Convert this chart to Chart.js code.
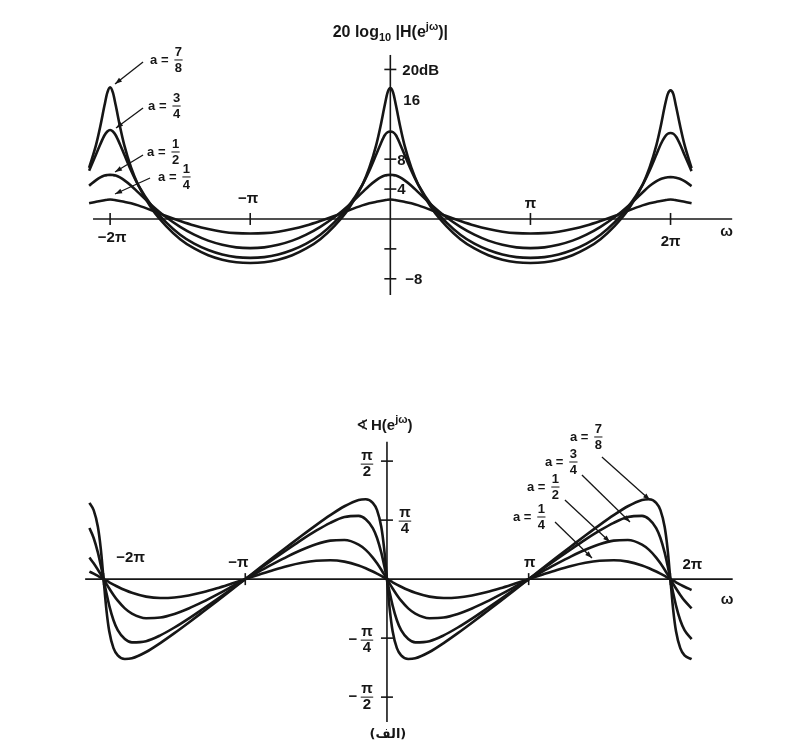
<!DOCTYPE html>
<html>
<head>
<meta charset="utf-8">
<script src="https://cdn.jsdelivr.net/npm/chart.js@4/dist/chart.umd.min.js"></script>
<style>
  body { margin: 0; background: #fff; }
  #wrap { position: relative; width: 800px; height: 748px; }
  canvas { position: absolute; left: 0; }
</style>
</head>
<body>
<div id="wrap">
  <canvas id="magChart" width="800" height="340" style="top:0"></canvas>
  <canvas id="phaseChart" width="800" height="408" style="top:340px"></canvas>
</div>
<script>
// frequency axis, in units of pi
var omegaMag = [-2.15, -2.1, -2.07, -2.04, -2.02, -2, -1.98, -1.96, -1.93, -1.9, -1.85, -1.8,
    -1.7, -1.6, -1.5, -1.4, -1.3, -1.2, -1.1, -1, -0.9, -0.8, -0.7, -0.6, -0.5, -0.4, -0.3, -0.2,
    -0.15, -0.1, -0.07, -0.04, -0.02, 0, 0.02, 0.04, 0.07, 0.1, 0.15, 0.2, 0.3, 0.4, 0.5, 0.6,
    0.7, 0.8, 0.9, 1, 1.1, 1.2, 1.3, 1.4, 1.5, 1.6, 1.7, 1.8, 1.85, 1.9, 1.93, 1.96, 1.98, 2,
    2.02, 2.04, 2.07, 2.1, 2.15];
var omegaPhase = [-2.1, -2.07, -2.04, -2.02, -2, -1.98, -1.96, -1.93, -1.9, -1.85, -1.8,
    -1.7, -1.6, -1.5, -1.4, -1.3, -1.2, -1.1, -1, -0.9, -0.8, -0.7, -0.6, -0.5, -0.4, -0.3, -0.2,
    -0.15, -0.1, -0.07, -0.04, -0.02, 0, 0.02, 0.04, 0.07, 0.1, 0.15, 0.2, 0.3, 0.4, 0.5, 0.6,
    0.7, 0.8, 0.9, 1, 1.1, 1.2, 1.3, 1.4, 1.5, 1.6, 1.7, 1.8, 1.85, 1.9, 1.93, 1.96, 1.98, 2,
    2.02, 2.04, 2.07, 2.1, 2.15];

// 20 log10 |H| in dB, one array per value of a
var mag78 = [6.85, 9.95, 12.4, 15.2, 16.9, 17.6, 16.9, 15.2, 12.4, 9.95, 6.85, 4.55, 1.3, -0.95,
    -2.7, -3.95, -4.85, -5.45, -5.8, -5.9, -5.8, -5.45, -4.85, -3.95, -2.7, -0.95, 1.3, 4.55,
    6.85, 9.95, 12.4, 15.2, 16.9, 17.5, 16.9, 15.2, 12.4, 9.95, 6.85, 4.55, 1.3, -0.95, -2.7,
    -3.95, -4.85, -5.45, -5.8, -5.9, -5.8, -5.45, -4.85, -3.95, -2.7, -0.95, 1.3, 4.55, 6.85,
    9.95, 12.4, 15.2, 16.7, 17.2, 16.7, 15.0, 12.3, 9.9, 6.8];
var mag34 = [6.45, 8.65, 10.0, 11.2, 11.7, 11.9, 11.7, 11.2, 10.0, 8.65, 6.45, 4.55, 1.65, -0.45,
    -2.1, -3.3, -4.15, -4.75, -5.1, -5.2, -5.1, -4.75, -4.15, -3.3, -2.1, -0.45, 1.65, 4.55,
    6.45, 8.65, 10.0, 11.2, 11.6, 11.7, 11.6, 11.2, 10.0, 8.65, 6.45, 4.55, 1.65, -0.45, -2.1,
    -3.3, -4.15, -4.75, -5.1, -5.2, -5.1, -4.75, -4.15, -3.3, -2.1, -0.45, 1.65, 4.55, 6.45,
    8.65, 10.0, 11.0, 11.4, 11.5, 11.4, 11.0, 9.9, 8.55, 6.4];
var mag12 = [4.45, 5.2, 5.55, 5.8, 5.87, 5.9, 5.87, 5.8, 5.55, 5.2, 4.45, 3.55, 1.78, 0.22,
    -1.05, -2.1, -2.9, -3.45, -3.8, -3.9, -3.8, -3.45, -2.9, -2.1, -1.05, 0.22, 1.78, 3.55,
    4.45, 5.2, 5.55, 5.8, 5.87, 5.9, 5.87, 5.8, 5.55, 5.2, 4.45, 3.55, 1.78, 0.22, -1.05,
    -2.1, -2.9, -3.45, -3.8, -3.9, -3.8, -3.45, -2.9, -2.1, -1.05, 0.22, 1.78, 3.55, 4.4,
    5.05, 5.35, 5.5, 5.57, 5.6, 5.57, 5.5, 5.35, 5.05, 4.4];
var mag14 = [2.1, 2.3, 2.4, 2.5, 2.57, 2.6, 2.57, 2.5, 2.4, 2.3, 2.1, 1.82, 1.14, 0.4,
    -0.27, -0.87, -1.35, -1.7, -1.9, -1.95, -1.9, -1.7, -1.35, -0.87, -0.27, 0.4, 1.14, 1.82,
    2.1, 2.3, 2.4, 2.5, 2.57, 2.6, 2.57, 2.5, 2.4, 2.3, 2.1, 1.82, 1.14, 0.4, -0.27,
    -0.87, -1.35, -1.7, -1.9, -1.95, -1.9, -1.7, -1.35, -0.87, -0.27, 0.4, 1.14, 1.82, 2.1,
    2.3, 2.4, 2.5, 2.57, 2.6, 2.57, 2.5, 2.4, 2.3, 2.1];

// phase of H in radians, one array per value of a
var ph78 = [1.015, 0.918, 0.694, 0.409, 0, -0.409, -0.694, -0.918, -1.015, -1.064, -1.054,
    -0.970, -0.851, -0.719, -0.580, -0.437, -0.293, -0.147, 0, 0.147, 0.293, 0.437, 0.580,
    0.719, 0.851, 0.970, 1.054, 1.064, 1.015, 0.918, 0.694, 0.409, 0, -0.409, -0.694, -0.918,
    -1.015, -1.064, -1.054, -0.970, -0.851, -0.719, -0.580, -0.437, -0.293, -0.147, 0, 0.147,
    0.293, 0.437, 0.580, 0.719, 0.851, 0.970, 1.054, 1.064, 1.015, 0.918, 0.694, 0.409, 0,
    -0.409, -0.694, -0.918, -1.015, -1.064];
var ph34 = [0.680, 0.548, 0.352, 0.185, 0, -0.185, -0.352, -0.548, -0.680, -0.798, -0.842,
    -0.826, -0.749, -0.644, -0.525, -0.398, -0.268, -0.135, 0, 0.135, 0.268, 0.398, 0.525,
    0.644, 0.749, 0.826, 0.842, 0.798, 0.680, 0.548, 0.352, 0.185, 0, -0.185, -0.352, -0.548,
    -0.680, -0.798, -0.842, -0.826, -0.749, -0.644, -0.525, -0.398, -0.268, -0.135, 0, 0.135,
    0.268, 0.398, 0.525, 0.644, 0.749, 0.826, 0.842, 0.798, 0.680, 0.548, 0.352, 0.185, 0,
    -0.185, -0.352, -0.548, -0.680, -0.798];
var ph12 = [0.287, 0.210, 0.124, 0.063, 0, -0.063, -0.124, -0.210, -0.287, -0.389, -0.459,
    -0.520, -0.512, -0.464, -0.391, -0.303, -0.206, -0.104, 0, 0.104, 0.206, 0.303, 0.391,
    0.464, 0.512, 0.520, 0.459, 0.389, 0.287, 0.210, 0.124, 0.063, 0, -0.063, -0.124, -0.210,
    -0.287, -0.389, -0.459, -0.520, -0.512, -0.464, -0.391, -0.303, -0.206, -0.104, 0, 0.104,
    0.206, 0.303, 0.391, 0.464, 0.512, 0.520, 0.459, 0.389, 0.287, 0.210, 0.124, 0.063, 0,
    -0.063, -0.124, -0.210, -0.287, -0.389];
var ph14 = [0.101, 0.072, 0.042, 0.021, 0, -0.021, -0.042, -0.072, -0.101, -0.145, -0.182,
    -0.233, -0.252, -0.245, -0.217, -0.175, -0.122, -0.062, 0, 0.062, 0.122, 0.175, 0.217,
    0.245, 0.252, 0.233, 0.182, 0.145, 0.101, 0.072, 0.042, 0.021, 0, -0.021, -0.042, -0.072,
    -0.101, -0.145, -0.182, -0.233, -0.252, -0.245, -0.217, -0.175, -0.122, -0.062, 0, 0.062,
    0.122, 0.175, 0.217, 0.245, 0.252, 0.233, 0.182, 0.145, 0.101, 0.072, 0.042, 0.021, 0,
    -0.021, -0.042, -0.072, -0.101, -0.145];

// tick values and labels
var magXTicks = [-2, -1, 1, 2];
var magXLabels = ['\u22122\u03c0', '\u2212\u03c0', '\u03c0', '2\u03c0'];
var magYTicks = [20, 8, 4, -4, -8];
var magYLabelValues = [20, 16, 8, 4, -8];
var magYLabels = ['20dB', '16', '8', '4', '\u22128'];
var phXTicks = [-2, -1, 1, 2];
var phXLabels = ['\u22122\u03c0', '\u2212\u03c0', '\u03c0', '2\u03c0'];
var phYTicks = [Math.PI / 2, Math.PI / 4, -Math.PI / 4, -Math.PI / 2];
var phYLabels = [['', '\u03c0', '2'], ['', '\u03c0', '4'], ['\u2212', '\u03c0', '4'], ['\u2212', '\u03c0', '2']];
var aNames = [['7', '8'], ['3', '4'], ['1', '2'], ['1', '4']];

var ink = '#161616';
var font = "bold 15px 'Liberation Sans', Arial, sans-serif";
var titleFont = "bold 16px 'Liberation Sans', Arial, sans-serif";
var supFont = "bold 11px 'Liberation Sans', Arial, sans-serif";
var smallFont = "bold 13px 'Liberation Sans', Arial, sans-serif";

function points(xs, ys) {
    return xs.map(function(x, i) { return { x: x, y: ys[i] }; });
}

function curve(xs, ys) {
    return {
        data: points(xs, ys),
        showLine: true,
        borderColor: ink,
        borderWidth: 2.6,
        pointRadius: 0,
        cubicInterpolationMode: 'monotone',
        fill: false,
        clip: false
    };
}

function line(ctx, x1, y1, x2, y2) {
    ctx.beginPath();
    ctx.moveTo(x1, y1);
    ctx.lineTo(x2, y2);
    ctx.stroke();
}

function arrow(ctx, x1, y1, x2, y2) {
    line(ctx, x1, y1, x2, y2);
    var ang = Math.atan2(y2 - y1, x2 - x1);
    ctx.beginPath();
    ctx.moveTo(x2, y2);
    ctx.lineTo(x2 - 7 * Math.cos(ang) + 2.5 * Math.sin(ang), y2 - 7 * Math.sin(ang) - 2.5 * Math.cos(ang));
    ctx.lineTo(x2 - 7 * Math.cos(ang) - 2.5 * Math.sin(ang), y2 - 7 * Math.sin(ang) + 2.5 * Math.cos(ang));
    ctx.closePath();
    ctx.fill();
}

function frac(ctx, num, den, cx, cy) {
    var w = Math.max(ctx.measureText(num).width, ctx.measureText(den).width) + 1;
    ctx.textAlign = 'center';
    ctx.textBaseline = 'middle';
    ctx.fillText(num, cx, cy - 8);
    ctx.fillText(den, cx, cy + 8);
    ctx.fillRect(cx - w / 2, cy - 0.5, w, 1);
}

// "a = n/d" label with a leader arrow; anchors are in data units
function aLabel(ctx, X, Y, name, note) {
    ctx.font = smallFont;
    ctx.textAlign = 'left';
    ctx.textBaseline = 'middle';
    var tx = X(note.text[0]), ty = Y(note.text[1]);
    ctx.fillText('a =', tx, ty);
    frac(ctx, name[0], name[1], tx + ctx.measureText('a =').width + 10, ty);
    arrow(ctx, X(note.tail[0]), Y(note.tail[1]), X(note.tip[0]), Y(note.tip[1]));
}

var magNotes = [
    { text: [-1.715, 21.27], tail: [-1.765, 21.0], tip: [-1.965, 18.06] },
    { text: [-1.729, 15.11], tail: [-1.765, 14.85], tip: [-1.958, 12.17] },
    { text: [-1.736, 8.96], tail: [-1.765, 8.56], tip: [-1.965, 6.29] },
    { text: [-1.658, 5.62], tail: [-1.715, 5.48], tip: [-1.965, 3.34] }
];
var phNotes = [
    { text: [1.291, 1.892], tail: [1.517, 1.625], tip: [1.856, 1.053] },
    { text: [1.115, 1.559], tail: [1.376, 1.386], tip: [1.715, 0.760] },
    { text: [0.988, 1.226], tail: [1.256, 1.053], tip: [1.574, 0.494] },
    { text: [0.889, 0.827], tail: [1.186, 0.760], tip: [1.447, 0.281] }
];

// text made of pieces with their own font and baseline shift
function richText(ctx, parts, x, y, align) {
    var total = 0;
    parts.forEach(function(p) { ctx.font = p[1]; total += ctx.measureText(p[0]).width; });
    var tx = align === 'center' ? x - total / 2 : x;
    ctx.textAlign = 'left';
    ctx.textBaseline = 'alphabetic';
    parts.forEach(function(p) {
        ctx.font = p[1];
        ctx.fillText(p[0], tx, y + p[2]);
        tx += ctx.measureText(p[0]).width;
    });
}

/**
 *  Axes, ticks and texts of the magnitude plot.
 */
var magAxes = {
    id: 'magAxes',
    beforeDatasetsDraw: function(chart) {
        var ctx = chart.ctx;
        var X = function(v) { return chart.scales.x.getPixelForValue(v); };
        var Y = function(v) { return chart.scales.y.getPixelForValue(v); };
        var x0 = X(0), y0 = Y(0);
        ctx.save();
        ctx.strokeStyle = ink;
        ctx.fillStyle = ink;
        ctx.lineWidth = 1.6;
        line(ctx, X(-2.122), y0, X(2.44), y0);
        line(ctx, x0, Y(21.94), x0, Y(-10.17));
        magXTicks.forEach(function(t) { line(ctx, X(t), y0 - 6, X(t), y0 + 6); });
        magYTicks.forEach(function(t) { line(ctx, x0 - 6, Y(t), x0 + 6, Y(t)); });

        ctx.font = font;
        ctx.textAlign = 'center';
        ctx.textBaseline = 'middle';
        var xOff = [[2, 19], [-2, -20], [0, -15], [0, 23]];
        magXTicks.forEach(function(t, i) {
            ctx.fillText(magXLabels[i], X(t) + xOff[i][0], y0 + xOff[i][1]);
        });
        ctx.fillText('\u03c9', X(2.4), y0 + 13);

        ctx.textAlign = 'left';
        var yOff = [[12, 1], [13, 2], [7, 2], [7, 1], [15, 1]];
        magYLabelValues.forEach(function(v, i) {
            ctx.fillText(magYLabels[i], x0 + yOff[i][0], Y(v) + yOff[i][1]);
        });

        // title: 20 log10 |H(e^jw)|
        richText(ctx, [['20 log', titleFont, 0], ['10', supFont, 4], [' |H(e', titleFont, 0],
                       ['j\u03c9', supFont, -7], [')|', titleFont, 0]], x0, 37, 'center');

        ctx.lineWidth = 1.3;
        magNotes.forEach(function(n, i) { aLabel(ctx, X, Y, aNames[i], n); });
        ctx.restore();
    }
};

/**
 *  Axes, ticks and texts of the phase plot.
 */
var phaseAxes = {
    id: 'phaseAxes',
    beforeDatasetsDraw: function(chart) {
        var ctx = chart.ctx;
        var X = function(v) { return chart.scales.x.getPixelForValue(v); };
        var Y = function(v) { return chart.scales.y.getPixelForValue(v); };
        var x0 = X(0), y0 = Y(0);
        ctx.save();
        ctx.strokeStyle = ink;
        ctx.fillStyle = ink;
        ctx.lineWidth = 1.6;
        line(ctx, X(-2.13), y0, X(2.44), y0);
        line(ctx, x0, Y(1.829), x0, Y(-1.902));
        phXTicks.forEach(function(t) { line(ctx, X(t), y0 - 6, X(t), y0 + 6); });
        phYTicks.forEach(function(t) { line(ctx, x0 - 6, Y(t), x0 + 6, Y(t)); });

        ctx.font = font;
        ctx.textAlign = 'center';
        ctx.textBaseline = 'middle';
        var xOff = [[27, -21], [-7, -16], [1, -16], [22, -14]];
        phXTicks.forEach(function(t, i) {
            ctx.fillText(phXLabels[i], X(t) + xOff[i][0], y0 + xOff[i][1]);
        });
        ctx.fillText('\u03c9', X(2.4), y0 + 21);

        var yOff = [[-20, 3], [18, 1], [-20, 2], [-20, 0]];
        phYTicks.forEach(function(t, i) {
            var lab = phYLabels[i];
            var cx = x0 + yOff[i][0], cy = Y(t) + yOff[i][1];
            ctx.font = font;
            if (lab[0]) {
                ctx.textAlign = 'center';
                ctx.textBaseline = 'middle';
                ctx.fillText(lab[0], cx - 14, cy);
            }
            frac(ctx, lab[1], lab[2], cx, cy);
        });

        // title: angle H(e^jw)
        var ty = Y(0) - 149;
        ctx.font = "bold 15px 'DejaVu Sans', sans-serif";
        ctx.textAlign = 'left';
        ctx.textBaseline = 'alphabetic';
        ctx.fillText('\u2222', x0 - 31, ty);
        richText(ctx, [['H(e', font, 0], ['j\u03c9', supFont, -7], [')', font, 0]], x0 - 16, ty, 'left');

        ctx.font = "bold 13px 'DejaVu Sans', sans-serif";
        ctx.direction = 'rtl';
        ctx.textAlign = 'center';
        ctx.textBaseline = 'middle';
        ctx.fillText('(\u0627\u0644\u0641)', x0 + 1, Y(-2.075));
        ctx.direction = 'ltr';

        ctx.lineWidth = 1.3;
        phNotes.forEach(function(n, i) { aLabel(ctx, X, Y, aNames[i], n); });
        ctx.restore();
    }
};

var baseOptions = function(xmin, xmax, ymin, ymax) {
    return {
        responsive: false,
        animation: false,
        events: [],
        layout: { padding: 0 },
        plugins: { legend: { display: false }, tooltip: { enabled: false } },
        scales: {
            x: { type: 'linear', display: false, min: xmin, max: xmax },
            y: { type: 'linear', display: false, min: ymin, max: ymax }
        }
    };
};

new Chart(document.getElementById('magChart'), {
    type: 'scatter',
    data: {
        datasets: [curve(omegaMag, mag78), curve(omegaMag, mag34), curve(omegaMag, mag12), curve(omegaMag, mag14)]
    },
    options: baseOptions(-2.786, 2.924, -16.19, 29.29),
    plugins: [magAxes]
});

new Chart(document.getElementById('phaseChart'), {
    type: 'scatter',
    data: {
        datasets: [curve(omegaPhase, ph78), curve(omegaPhase, ph34), curve(omegaPhase, ph12), curve(omegaPhase, ph14)]
    },
    options: baseOptions(-2.731, 2.915, -2.248, 3.183),
    plugins: [phaseAxes]
});
</script>
</body>
</html>
